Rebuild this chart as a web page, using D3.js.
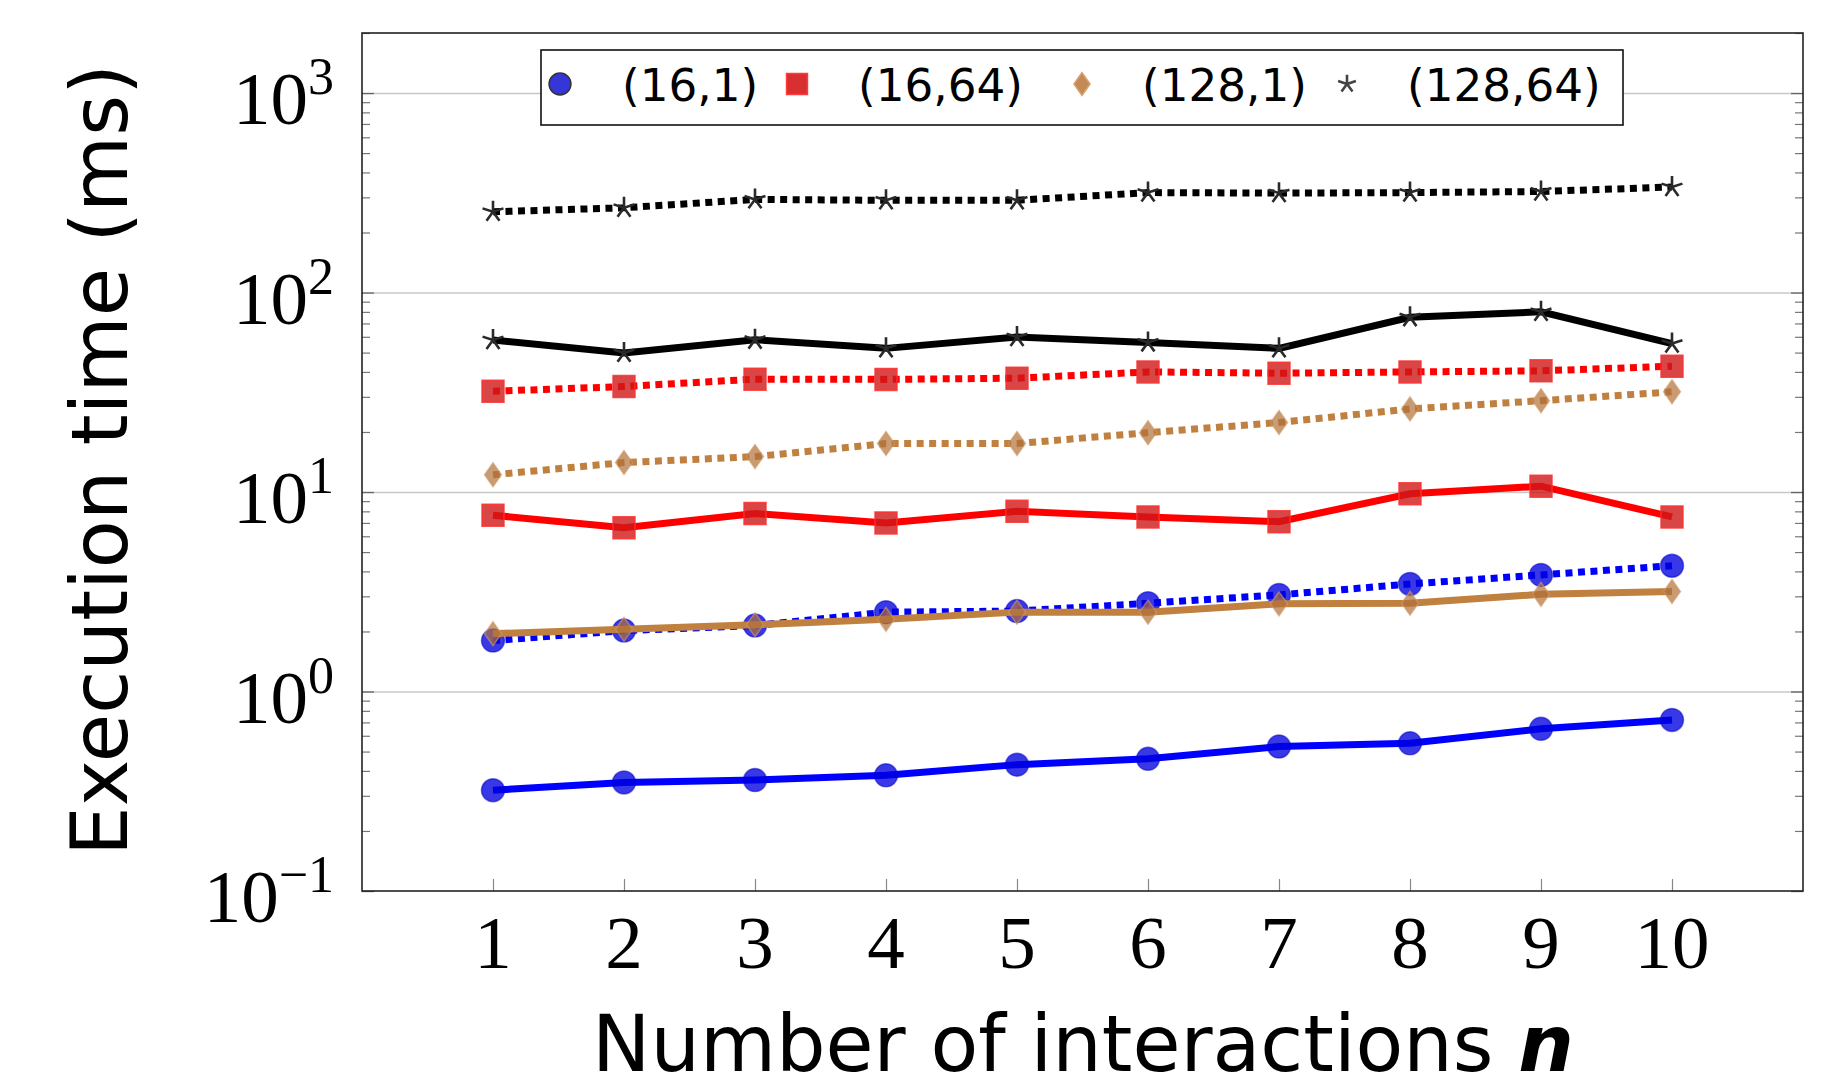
<!DOCTYPE html>
<html>
<head>
<meta charset="utf-8">
<script src="https://cdn.jsdelivr.net/npm/d3@7/dist/d3.min.js"></script>
<style>
  body { margin: 0; background: #fff; }
</style>
</head>
<body>
<div id="chart-container"></div>
<script>
// Data
const interactions = [1, 2, 3, 4, 5, 6, 7, 8, 9, 10];
const configLabels = ['(16,1)', '(16,64)', '(128,1)', '(128,64)'];

// solid lines
const time16x1Solid = [0.32, 0.35, 0.36, 0.38, 0.43, 0.46, 0.53, 0.55, 0.65, 0.72];
const time16x64Solid = [7.65, 6.62, 7.8, 7.0, 8.0, 7.5, 7.1, 9.8, 10.7, 7.5];
const time128x1Solid = [1.95, 2.05, 2.16, 2.3, 2.5, 2.5, 2.75, 2.77, 3.07, 3.17];
const time128x64Solid = [57.8, 49.8, 58, 52.5, 59.8, 56.2, 52.5, 75.2, 80, 55.5];

// dotted lines
const time16x1Dotted = [1.8, 2.02, 2.14, 2.5, 2.53, 2.77, 3.05, 3.46, 3.84, 4.27];
const time16x64Dotted = [32, 33.8, 36.8, 36.7, 37.2, 40, 39.4, 40, 40.5, 42.7];
const time128x1Dotted = [12.2, 14.05, 15.05, 17.5, 17.5, 19.85, 22.3, 26.1, 28.7, 31.8];
const time128x64Dotted = [254, 266, 293, 290, 290, 317, 315, 317, 321, 338];

const yMajorTicks = [0.1, 1, 10, 100, 1000];
const yTickExponents = ['\u22121', '0', '1', '2', '3'];

function createChart(elementId) {
    // Container dimensions
    const width = 1839;
    const height = 1088;
    const margins = { top: 33, right: 36, bottom: 197, left: 362 };
    const innerWidth = width - margins.left - margins.right;
    const innerHeight = height - margins.top - margins.bottom;

    const sansFont = '"DejaVu Sans", "Noto Sans", sans-serif';
    const serifFont = '"Liberation Serif", "DejaVu Serif", serif';

    // per configuration styles
    const styles = [
        { line: '#0000ff', marker: 'circle', fill: '#0000e0', fillOpacity: 0.78, stroke: '#0000c0', strokeOpacity: 0.5 },
        { line: '#ff0000', marker: 'square', fill: '#d01818', fillOpacity: 0.8, stroke: '#ff3030', strokeOpacity: 0.85 },
        { line: '#bf8040', marker: 'diamond', fill: '#b07038', fillOpacity: 0.7, stroke: '#d09a68', strokeOpacity: 0.6 },
        { line: '#000000', marker: 'star', fill: 'none', fillOpacity: 0, stroke: '#2a2a2a', strokeOpacity: 1 }
    ];

    const solidSeries = [time16x1Solid, time16x64Solid, time128x1Solid, time128x64Solid];
    const dottedSeries = [time16x1Dotted, time16x64Dotted, time128x1Dotted, time128x64Dotted];

    // draw order: solid then dotted for each configuration
    const series = [];
    configLabels.forEach((label, i) => {
        series.push({ label, dotted: false, style: styles[i], values: solidSeries[i] });
        series.push({ label, dotted: true, style: styles[i], values: dottedSeries[i] });
    });

    // marker shapes as path strings centred on 0,0
    function markerPath(type, s) {
        if (type === 'circle') {
            const r = 11.5 * s;
            return `M${-r},0A${r},${r} 0 1,0 ${r},0A${r},${r} 0 1,0 ${-r},0Z`;
        }
        if (type === 'square') {
            const h = 11 * s;
            return `M${-h},${-h}H${h}V${h}H${-h}Z`;
        }
        if (type === 'diamond') {
            const w = 8.5 * s, h = 12 * s;
            return `M0,${-h}L${w},0L0,${h}L${-w},0Z`;
        }
        // five armed star
        const r = 11 * s;
        let p = '';
        for (let k = 0; k < 5; k++) {
            const a = -Math.PI / 2 + k * 2 * Math.PI / 5;
            p += `M0,0L${(r * Math.cos(a)).toFixed(2)},${(r * Math.sin(a)).toFixed(2)}`;
        }
        return p;
    }

    function styleMarker(sel, st) {
        sel.attr('fill', st.fill)
            .attr('fill-opacity', st.fillOpacity)
            .attr('stroke', st.stroke)
            .attr('stroke-opacity', st.strokeOpacity)
            .attr('stroke-width', st.marker === 'star' ? 2.6 : 1.5);
    }

    // Create svg element
    const svg = d3.select(elementId)
        .append('svg')
        .attr('width', width)
        .attr('height', height)
        .style('display', 'block');

    svg.append('rect').attr('width', width).attr('height', height).attr('fill', '#fff');

    const g = svg.append('g')
        .attr('transform', `translate(${margins.left},${margins.top})`);

    // Scales
    const xScale = d3.scaleLinear().domain([0, 11]).range([0, innerWidth]);
    const yScale = d3.scaleLog().domain([0.1, 2000]).range([innerHeight, 0]);

    // Grid lines at decades
    g.append('g')
        .attr('class', 'grid')
        .call(d3.axisLeft(yScale).tickValues(yMajorTicks.slice(1)).tickSize(-innerWidth).tickFormat(''))
        .call(ax => ax.select('.domain').remove())
        .selectAll('line')
        .attr('stroke', '#c8c8c8')
        .attr('stroke-width', 1.5);

    // Minor ticks on both sides
    const minorTicks = [];
    yMajorTicks.slice(0, 4).forEach(base => {
        for (let m = 2; m <= 9; m++) minorTicks.push(base * m);
    });
    minorTicks.push(2000);

    g.append('g')
        .call(d3.axisLeft(yScale).tickValues(minorTicks).tickSize(-8).tickFormat(''))
        .call(ax => ax.select('.domain').remove())
        .selectAll('line').attr('stroke', '#777').attr('stroke-width', 1.2);
    g.append('g')
        .attr('transform', `translate(${innerWidth},0)`)
        .call(d3.axisRight(yScale).tickValues(minorTicks).tickSize(-8).tickFormat(''))
        .call(ax => ax.select('.domain').remove())
        .selectAll('line').attr('stroke', '#777').attr('stroke-width', 1.2);

    // Major y ticks on both sides
    g.append('g')
        .call(d3.axisLeft(yScale).tickValues(yMajorTicks).tickSize(-12).tickFormat(''))
        .call(ax => ax.select('.domain').remove())
        .selectAll('line').attr('stroke', '#666').attr('stroke-width', 1.3);
    g.append('g')
        .attr('transform', `translate(${innerWidth},0)`)
        .call(d3.axisRight(yScale).tickValues(yMajorTicks).tickSize(-12).tickFormat(''))
        .call(ax => ax.select('.domain').remove())
        .selectAll('line').attr('stroke', '#666').attr('stroke-width', 1.3);

    // X ticks at the bottom, pointing inward
    g.append('g')
        .attr('transform', `translate(0,${innerHeight})`)
        .call(d3.axisBottom(xScale).tickValues(interactions).tickSize(-12).tickFormat(''))
        .call(ax => ax.select('.domain').remove())
        .selectAll('line').attr('stroke', '#888').attr('stroke-width', 1.2);

    // X tick labels
    g.append('g')
        .selectAll('text')
        .data(interactions)
        .join('text')
        .attr('x', d => xScale(d))
        .attr('y', innerHeight + 77)
        .attr('text-anchor', 'middle')
        .attr('font-family', serifFont)
        .attr('font-size', 75)
        .attr('fill', '#000')
        .text(d => d);

    // Y tick labels 10^k
    const yLabels = g.append('g')
        .selectAll('text')
        .data(yMajorTicks)
        .join('text')
        .attr('x', -28)
        .attr('y', d => yScale(d) + 31)
        .attr('text-anchor', 'end')
        .attr('font-family', serifFont)
        .attr('font-size', 75)
        .attr('fill', '#000');
    yLabels.append('tspan').text('10');
    yLabels.append('tspan')
        .attr('font-size', 52)
        .attr('dy', -30)
        .text((d, i) => yTickExponents[i]);

    // Lines and markers
    const line = d3.line()
        .x((d, i) => xScale(interactions[i]))
        .y(d => yScale(d));

    const seriesG = g.append('g').attr('class', 'series');
    series.forEach(s => {
        const sg = seriesG.append('g');
        sg.append('path')
            .datum(s.values)
            .attr('d', line)
            .attr('fill', 'none')
            .attr('stroke', s.style.line)
            .attr('stroke-width', 7)
            .attr('stroke-linejoin', 'miter')
            .attr('stroke-dasharray', s.dotted ? '7,5.5' : null);
        sg.selectAll('path.marker')
            .data(s.values)
            .join('path')
            .attr('class', 'marker')
            .attr('transform', (d, i) => `translate(${xScale(interactions[i])},${yScale(d)})`)
            .attr('d', markerPath(s.style.marker, 1))
            .call(styleMarker, s.style);
    });

    // Frame
    g.append('rect')
        .attr('width', innerWidth)
        .attr('height', innerHeight)
        .attr('fill', 'none')
        .attr('stroke', '#222')
        .attr('stroke-width', 1.6);

    // Legend
    const legendBox = { x: 541, y: 50, w: 1082, h: 75 };
    const legendMarkerX = [560, 797, 1082, 1347];
    const legendTextX = [622, 858, 1142, 1407];
    const legendCy = 84;
    const legend = svg.append('g').attr('class', 'legend');
    legend.append('rect')
        .attr('x', legendBox.x)
        .attr('y', legendBox.y)
        .attr('width', legendBox.w)
        .attr('height', legendBox.h)
        .attr('fill', '#fff')
        .attr('stroke', '#111')
        .attr('stroke-width', 1.6);

    const legendStyles = [
        { fill: '#3535d8', fillOpacity: 1, stroke: '#333', strokeOpacity: 1, marker: 'circle' },
        { fill: '#d83030', fillOpacity: 1, stroke: '#ff3a3a', strokeOpacity: 1, marker: 'square' },
        { fill: '#c48a55', fillOpacity: 1, stroke: '#d9a070', strokeOpacity: 1, marker: 'diamond' },
        { fill: 'none', fillOpacity: 0, stroke: '#444', strokeOpacity: 1, marker: 'star' }
    ];
    const legendTexts = [];
    configLabels.forEach((label, i) => {
        const st = legendStyles[i];
        legend.append('path')
            .attr('transform', `translate(${legendMarkerX[i]},${legendCy})`)
            .attr('d', markerPath(st.marker, st.marker === 'star' ? 0.85 : 0.95))
            .call(styleMarker, st);
        legendTexts.push(legend.append('text')
            .attr('x', legendTextX[i])
            .attr('y', legendCy + 17)
            .attr('font-family', sansFont)
            .attr('font-size', 46)
            .attr('fill', '#000')
            .text(label));
    });
    // one font size for all labels, fitted on the (16,64) entry
    const legendFont = 46 * 165 / legendTexts[1].node().getComputedTextLength();
    legendTexts.forEach(t => t.attr('font-size', legendFont));

    // Axis titles
    const xTitle = svg.append('text')
        .attr('x', 1083)
        .attr('y', 1071)
        .attr('text-anchor', 'middle')
        .attr('font-family', sansFont)
        .attr('font-size', 78)
        .attr('fill', '#000');
    xTitle.append('tspan').text('Number of interactions ');
    xTitle.append('tspan').attr('font-style', 'italic').attr('font-weight', 'bold').text('n');
    const xw = xTitle.node().getComputedTextLength();
    xTitle.attr('font-size', 78 * 982 / xw);

    const yTitle = svg.append('text')
        .attr('transform', 'translate(127,460) rotate(-90)')
        .attr('text-anchor', 'middle')
        .attr('font-family', sansFont)
        .attr('font-size', 78)
        .attr('fill', '#000')
        .text('Execution time (ms)');
    const yw = yTitle.node().getComputedTextLength();
    yTitle.attr('font-size', 78 * 792 / yw);
}

createChart('#chart-container');
</script>
</body>
</html>
